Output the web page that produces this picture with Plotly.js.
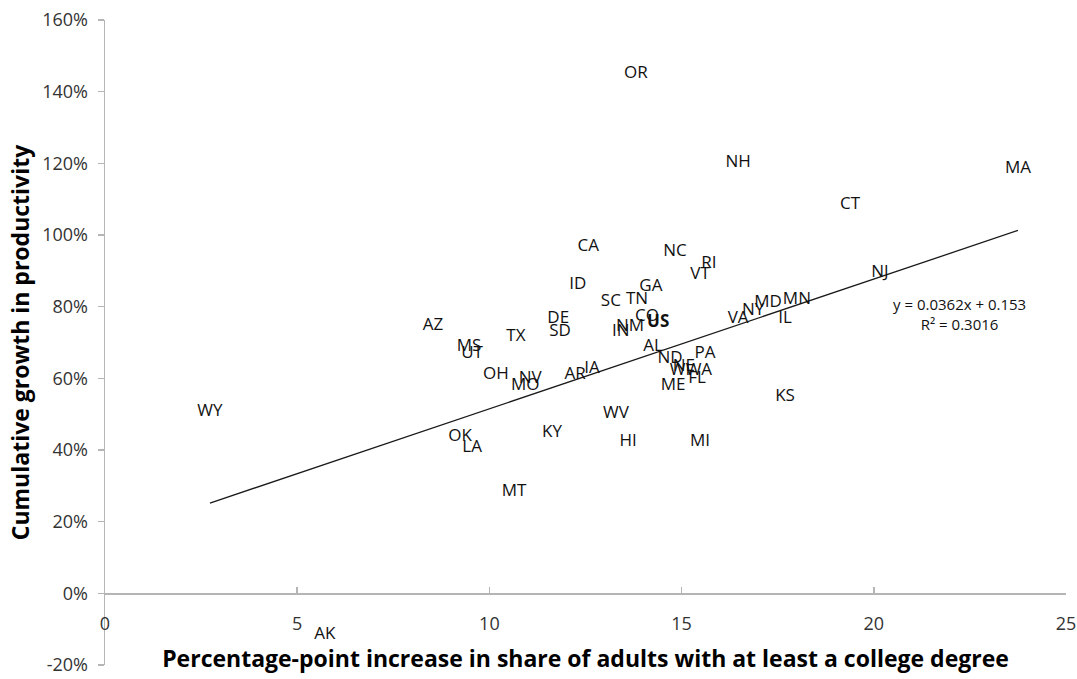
<!DOCTYPE html>
<html>
<head>
<meta charset="utf-8">
<script src="https://cdn.plot.ly/plotly-3.0.1.min.js"></script>
<style>
  html, body { margin: 0; padding: 0; background: #fff; }
  #chart { width: 1077px; height: 679px; }
</style>
</head>
<body>
<div id="chart"></div>
<script>
// State labels (plus US average)
const states = ["OR","NH","MA","CT","CA","NC","RI","VT","NJ","ID","GA","SC","TN","MD","MN","NY","VA","IL","CO","US","NM","IN","DE","SD","AZ","TX","MS","UT","AL","PA","ND","NE","WI","WA","FL","ME","OH","NV","MO","AR","IA","KS","WY","WV","OK","LA","KY","HI","MI","MT","AK"];

// Percentage-point increase in share of adults with at least a college degree
const collegeIncrease = [13.81,16.47,23.75,19.38,12.57,14.83,15.71,15.48,20.16,12.30,14.20,13.16,13.84,17.25,18.00,16.86,16.47,17.69,14.10,14.39,13.66,13.42,11.79,11.84,8.53,10.69,9.47,9.55,14.26,15.61,14.70,15.06,14.96,15.45,15.40,14.78,10.17,11.06,10.93,12.23,12.67,17.69,2.73,13.29,9.24,9.55,11.63,13.61,15.48,10.64,5.72];

// Cumulative growth in productivity (fraction)
const productivityGrowth = [1.450,1.201,1.185,1.084,0.966,0.952,0.921,0.888,0.894,0.860,0.855,0.813,0.818,0.810,0.818,0.790,0.765,0.765,0.771,0.754,0.745,0.729,0.765,0.729,0.748,0.717,0.687,0.670,0.687,0.670,0.654,0.632,0.622,0.622,0.600,0.580,0.611,0.600,0.578,0.611,0.627,0.549,0.508,0.502,0.438,0.407,0.449,0.424,0.424,0.284,-0.116];

// Linear fit shown on chart
const trendSlope = 0.0362;
const trendIntercept = 0.153;
const trendLabel = "y = 0.0362x + 0.153<br>R² = 0.3016";

const xTickVals = [0,5,10,15,20,25];
const xTickText = ["0","5","10","15","20","25"];
const yTickVals = [-0.2,0,0.2,0.4,0.6,0.8,1.0,1.2,1.4,1.6];
const yTickText = ["-20%","0%","20%","40%","60%","80%","100%","120%","140%","160%"];

const xMin = Math.min(...collegeIncrease);
const xMax = Math.max(...collegeIncrease);
const trendX = [xMin, xMax];
const trendY = trendX.map(v => trendSlope * v + trendIntercept);

const displayText = states.map(s => s === "US" ? "<b>US</b>" : s);

const FONT = "Open Sans, Noto Sans, Liberation Sans, sans-serif";

const traces = [
  {
    x: trendX, y: trendY, mode: "lines", type: "scatter",
    line: { color: "#1a1a1a", width: 1.3 },
    hoverinfo: "skip", showlegend: false
  },
  {
    x: collegeIncrease, y: productivityGrowth, mode: "text", type: "scatter",
    text: displayText, textposition: "middle center",
    textfont: { family: FONT, size: 17, color: "#111" },
    showlegend: false
  }
];

const layout = {
  width: 1077, height: 679,
  margin: { l: 105, r: 11, t: 20, b: 14 },
  paper_bgcolor: "#fff", plot_bgcolor: "#fff",
  showlegend: false,
  font: { family: FONT, color: "#333" },
  xaxis: {
    range: [0, 25],
    tickvals: xTickVals, ticktext: xTickText,
    ticks: "inside", ticklen: 6, tickcolor: "#b5b5b5", tickwidth: 1.5,
    showline: true, linecolor: "#b5b5b5", linewidth: 1.5,
    showgrid: false, zeroline: false,
    anchor: "free", position: 0.2 / 1.8,
    ticklabelstandoff: 14,
    tickfont: { family: FONT, size: 18, color: "#333" },
    title: { text: "Percentage-point increase in share of adults with at least a college degree",
             font: { family: FONT, size: 23, color: "#000", weight: "bold" }, standoff: 16 }
  },
  yaxis: {
    range: [-0.2, 1.6],
    tickvals: yTickVals, ticktext: yTickText,
    ticks: "outside", ticklen: 6, tickcolor: "#b5b5b5", tickwidth: 1.5,
    showline: true, linecolor: "#b5b5b5", linewidth: 1.5,
    showgrid: false, zeroline: false,
    ticklabelstandoff: 6,
    tickfont: { family: FONT, size: 18, color: "#333" },
    title: { text: "Cumulative growth in productivity",
             font: { family: FONT, size: 23, color: "#000", weight: "bold" }, standoff: 6 }
  },
  annotations: [
    {
      x: 22.22, y: 0.78, xref: "x", yref: "y",
      text: trendLabel, showarrow: false, align: "center",
      font: { family: FONT, size: 15, color: "#111" }
    }
  ]
};

Plotly.newPlot("chart", traces, layout, { displayModeBar: false, staticPlot: true });
</script>
</body>
</html>
